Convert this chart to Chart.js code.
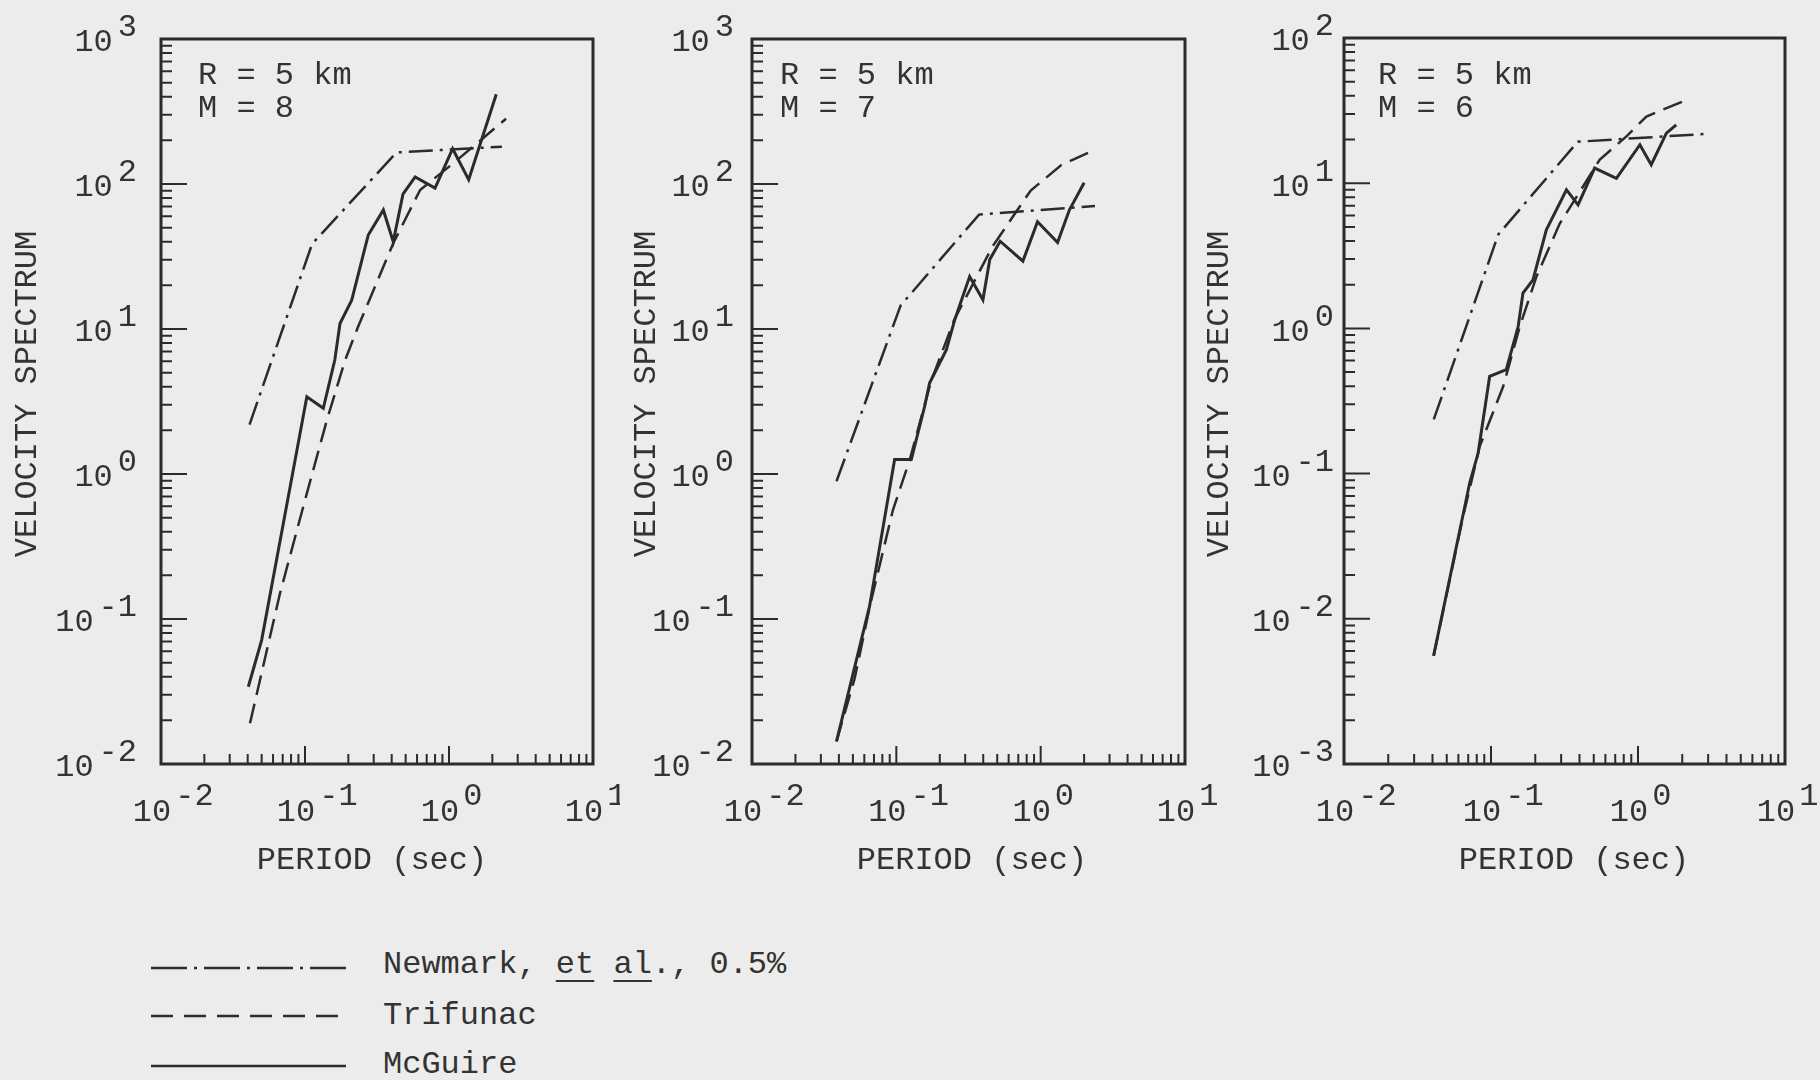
<!DOCTYPE html>
<html>
<head>
<meta charset="utf-8">
<title>Velocity spectra, R = 5 km</title>
<script src="https://cdn.jsdelivr.net/npm/chart.js@4.4.0/dist/chart.umd.min.js"></script>
<style>
    body { margin: 0; background: #ececec; }
    #page { position: relative; width: 1820px; height: 1080px; background: #ececec; overflow: hidden; }
    canvas { position: absolute; top: 0; }
    .leg-line { position: absolute; left: 151px; }
    .leg-text { position: absolute; left: 383px; height: 40px; line-height: 40px;
                font: 32px "Liberation Mono", "DejaVu Sans Mono", monospace; color: #333; white-space: pre; }
    .leg-text u { text-decoration-thickness: 2px; text-underline-offset: 7px; }
</style>
</head>
<body>
<div id="page">
    <canvas id="chart-m8" width="620" height="880" style="left:0px"></canvas>
    <canvas id="chart-m7" width="600" height="880" style="left:620px"></canvas>
    <canvas id="chart-m6" width="620" height="880" style="left:1200px"></canvas>

    <svg class="leg-line" style="top:958px" width="200" height="20">
        <line x1="0" y1="10" x2="195" y2="10" stroke="#2b2b2b" stroke-width="2.5" stroke-dasharray="36 7 3 7"/>
    </svg>
    <div class="leg-text" style="top:946px">Newmark, <u>et</u> <u>al</u>., 0.5%</div>

    <svg class="leg-line" style="top:1006px" width="200" height="20">
        <line x1="0" y1="10" x2="195" y2="10" stroke="#2b2b2b" stroke-width="2.5" stroke-dasharray="22 11"/>
    </svg>
    <div class="leg-text" style="top:997px">Trifunac</div>

    <svg class="leg-line" style="top:1056px" width="200" height="20">
        <line x1="0" y1="10" x2="195" y2="10" stroke="#2b2b2b" stroke-width="2.5"/>
    </svg>
    <div class="leg-text" style="top:1046px">McGuire</div>
</div>

<script>
// periods (sec) and velocity spectrum values

// M = 8
const m8NewmarkT = [0.0412, 0.112, 0.432, 2.33];
const m8NewmarkV = [2.19, 38.6, 165, 181];
const m8TrifunacT = [0.0415, 0.067, 0.103, 0.142, 0.19, 0.234, 0.41, 0.63, 1.09, 2.49];
const m8TrifunacV = [0.0191, 0.15, 0.736, 2.36, 6.11, 10.4, 39.0, 91.0, 141, 282];
const m8McGuireT = [0.0404, 0.05, 0.103, 0.134, 0.161, 0.175, 0.211, 0.275, 0.35, 0.41, 0.479, 0.582, 0.80, 1.06, 1.37, 2.13];
const m8McGuireV = [0.0341, 0.0716, 3.41, 2.84, 6.11, 10.9, 15.8, 44.5, 66.2, 40.0, 85.1, 112, 93.8, 175, 107, 416];

// M = 7
const m7NewmarkT = [0.0385, 0.107, 0.374, 2.38];
const m7NewmarkV = [0.891, 14.5, 61.5, 70.5];
const m7TrifunacT = [0.0385, 0.0514, 0.0656, 0.0946, 0.124, 0.174, 0.252, 0.463, 0.853, 1.39, 2.24];
const m7TrifunacV = [0.0143, 0.0387, 0.123, 0.562, 1.26, 4.36, 11.6, 37.0, 90.2, 135, 168];
const m7McGuireT = [0.0385, 0.0652, 0.0973, 0.127, 0.157, 0.170, 0.222, 0.254, 0.322, 0.398, 0.444, 0.524, 0.753, 0.951, 1.31, 1.58, 2.00];
const m7McGuireV = [0.0143, 0.122, 1.26, 1.26, 2.92, 4.24, 7.18, 11.6, 23.0, 15.9, 30.1, 40.3, 29.4, 55.0, 39.5, 66.1, 102];

// M = 6
const m6NewmarkT = [0.0408, 0.112, 0.389, 2.99];
const m6NewmarkV = [0.236, 4.43, 19.3, 21.9];
const m6TrifunacT = [0.0407, 0.0646, 0.0838, 0.121, 0.157, 0.204, 0.293, 0.401, 0.548, 0.834, 1.14, 2.02];
const m6TrifunacV = [0.00556, 0.0507, 0.154, 0.398, 1.03, 2.28, 5.25, 8.71, 14.5, 21.0, 28.8, 36.6];
const m6McGuireT = [0.0407, 0.0716, 0.0817, 0.0979, 0.127, 0.153, 0.165, 0.193, 0.238, 0.326, 0.391, 0.507, 0.713, 1.03, 1.23, 1.56, 1.82];
const m6McGuireV = [0.00556, 0.0861, 0.138, 0.467, 0.519, 1.03, 1.75, 2.16, 4.78, 9.02, 7.10, 12.7, 10.8, 18.4, 13.4, 22.1, 25.2];

// tick labels: powers of ten
const xTickExps = [-2, -1, 0, 1];
const m8YTickExps = [-2, -1, 0, 1, 2, 3];
const m7YTickExps = [-2, -1, 0, 1, 2, 3];
const m6YTickExps = [-3, -2, -1, 0, 1, 2];

const xTitle = 'PERIOD (sec)';
const yTitle = 'VELOCITY SPECTRUM';

const INK = '#2b2b2b';
const TEXT = '#333';
const FONT = '32px "Liberation Mono", "DejaVu Sans Mono", monospace';

function pts(ts, vs) { return ts.map((t, i) => ({ x: t, y: vs[i] })); }

// draws the frame, inward log ticks, 10^n labels and titles
const framePlugin = {
    id: 'frame',
    afterDraw(chart, args, o) {
        const ctx = chart.ctx, a = chart.chartArea;
        const xs = chart.scales.x, ys = chart.scales.y;
        ctx.save();
        ctx.strokeStyle = INK;
        ctx.lineWidth = 3;
        ctx.strokeRect(a.left, a.top, a.right - a.left, a.bottom - a.top);

        ctx.lineWidth = 2;
        ctx.beginPath();
        for (let e = o.yExps[0]; e < o.yExps[o.yExps.length - 1]; e++) {
            for (let m = 1; m < 10; m++) {
                const py = ys.getPixelForValue(m * Math.pow(10, e));
                const len = m === 1 ? 26 : 11;
                ctx.moveTo(a.left, py); ctx.lineTo(a.left + len, py);
            }
        }
        for (let e = xTickExps[0]; e < xTickExps[xTickExps.length - 1]; e++) {
            for (let m = 1; m < 10; m++) {
                const px = xs.getPixelForValue(m * Math.pow(10, e));
                const len = m === 1 ? 18 : 10;
                ctx.moveTo(px, a.bottom); ctx.lineTo(px, a.bottom - len);
            }
        }
        ctx.stroke();

        ctx.fillStyle = TEXT;
        ctx.font = FONT;
        ctx.textBaseline = 'middle';

        // y labels, right aligned
        o.yExps.forEach(e => {
            const py = ys.getPixelForValue(Math.pow(10, e));
            const ex = String(e);
            const rx = a.left - o.yGap;
            ctx.textAlign = 'right';
            ctx.fillText(ex, rx, py - 11);
            const w = ctx.measureText(ex).width;
            ctx.fillText('10', rx - w - 5, py + 4);
        });

        // x labels
        xTickExps.forEach(e => {
            const px = xs.getPixelForValue(Math.pow(10, e));
            ctx.textAlign = 'center';
            ctx.fillText('10', px - 9, a.bottom + 49);
            const w = ctx.measureText('10').width;
            ctx.textAlign = 'left';
            ctx.fillText(String(e), px - 9 + w / 2 + 4, a.bottom + 33);
        });

        // titles
        ctx.textAlign = 'center';
        ctx.fillText(xTitle, o.xTitleX, 861);
        ctx.save();
        ctx.translate(o.yTitleX, 394);
        ctx.rotate(-Math.PI / 2);
        ctx.fillText(yTitle, 0, 0);
        ctx.restore();

        // case annotation
        ctx.textAlign = 'left';
        ctx.fillText(o.line1, a.left + o.noteDx, 76);
        ctx.fillText(o.line2, a.left + o.noteDx, 109);
        ctx.restore();
    }
};

function makePanel(id, series, yMin, yMax, frame, pad) {
    const ctx = document.getElementById(id).getContext('2d');
    return new Chart(ctx, {
        type: 'scatter',
        data: {
            datasets: [
                { label: 'Newmark, et al., 0.5%', data: pts(series[0], series[1]), showLine: true,
                  borderColor: INK, borderWidth: 2.5, borderDash: [24, 7, 3, 7], pointRadius: 0 },
                { label: 'Trifunac', data: pts(series[2], series[3]), showLine: true,
                  borderColor: INK, borderWidth: 2.5, borderDash: [20, 9], pointRadius: 0 },
                { label: 'McGuire', data: pts(series[4], series[5]), showLine: true,
                  borderColor: INK, borderWidth: 3, pointRadius: 0 }
            ]
        },
        options: {
            responsive: false,
            animation: false,
            layout: { padding: pad },
            plugins: { legend: { display: false }, tooltip: { enabled: false }, frame: frame },
            scales: {
                x: { type: 'logarithmic', min: 0.01, max: 10, display: false },
                y: { type: 'logarithmic', min: yMin, max: yMax, display: false }
            }
        },
        plugins: [framePlugin]
    });
}

makePanel('chart-m8',
    [m8NewmarkT, m8NewmarkV, m8TrifunacT, m8TrifunacV, m8McGuireT, m8McGuireV],
    1e-2, 1e3,
    { yExps: m8YTickExps, yGap: 24, xTitleX: 372, yTitleX: 28, noteDx: 37, line1: 'R = 5 km', line2: 'M = 8' },
    { left: 161, right: 27, top: 39, bottom: 116 });

makePanel('chart-m7',
    [m7NewmarkT, m7NewmarkV, m7TrifunacT, m7TrifunacV, m7McGuireT, m7McGuireV],
    1e-2, 1e3,
    { yExps: m7YTickExps, yGap: 18, xTitleX: 352, yTitleX: 27, noteDx: 28, line1: 'R = 5 km', line2: 'M = 7' },
    { left: 132, right: 35, top: 39, bottom: 116 });

makePanel('chart-m6',
    [m6NewmarkT, m6NewmarkV, m6TrifunacT, m6TrifunacV, m6McGuireT, m6McGuireV],
    1e-3, 1e2,
    { yExps: m6YTickExps, yGap: 10, xTitleX: 374, yTitleX: 20, noteDx: 34, line1: 'R = 5 km', line2: 'M = 6' },
    { left: 144, right: 35, top: 38, bottom: 116 });
</script>
</body>
</html>
